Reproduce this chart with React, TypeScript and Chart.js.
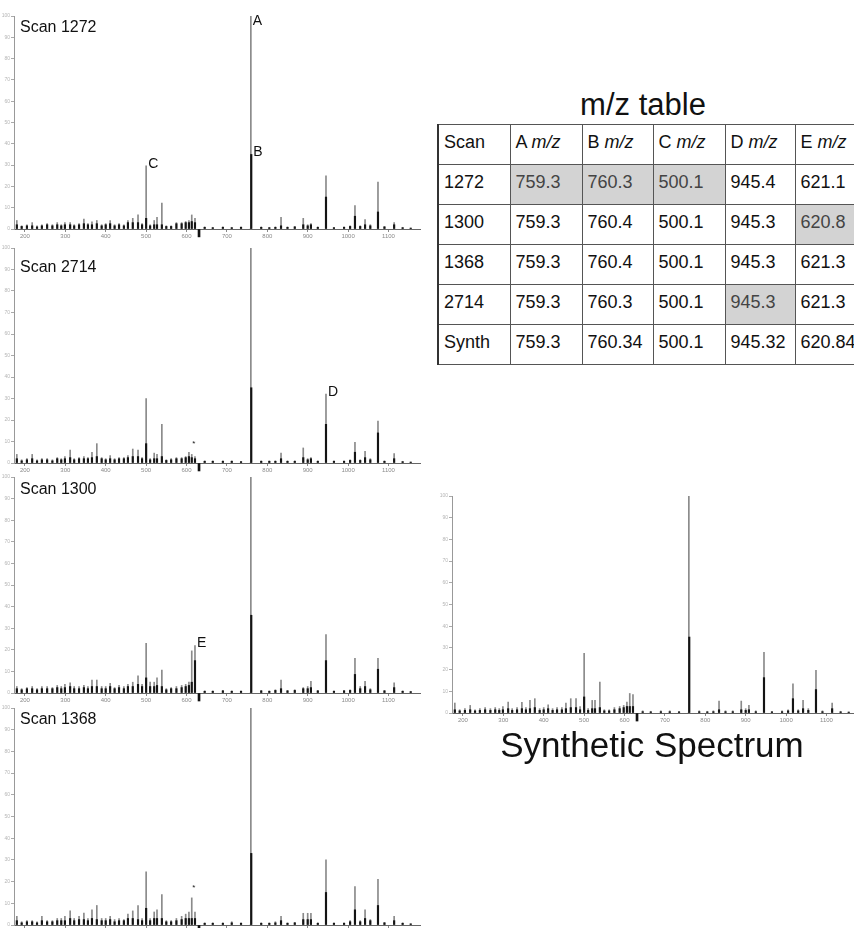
import React, { useEffect, useRef } from "react";
import { Chart, registerables } from "chart.js";

Chart.register(...registerables);

const FONT = '"Liberation Sans", Arial, Helvetica, sans-serif';

// ---------------- DATA ----------------
const mzPositions = [
  180, 192, 205, 218, 230, 242, 255, 268, 280, 290,
  299, 312, 322, 334, 346, 356, 366, 378, 390, 400,
  411, 422, 433, 445, 455, 467, 480, 490, 500.1, 510,
  520, 527, 539, 550, 562, 575, 588, 598, 606, 613,
  621, 645, 665, 690, 712, 735, 759.3, 760.3, 785, 805,
  820, 834, 850, 868, 889, 900, 908, 925, 945.3, 965,
  990, 1005, 1017, 1030, 1042, 1055, 1074, 1090, 1114, 1135,
  1155,
];

const scan1272Grey = [
  4, 1.5, 2, 3, 1.5, 2, 2.5, 2, 3, 2,
  3, 3, 2, 2.5, 4.7, 2.5, 3.4, 4, 2, 2.5,
  4, 2, 2.5, 2, 4, 5, 6.7, 2.5, 29.7, 2,
  4, 5.5, 12.2, 1.5, 1.5, 3, 3, 3.5, 4, 6.6,
  5, 1, 0.8, 1, 0.8, 1, 100, 0, 1, 0.8,
  1, 5.5, 1, 1.2, 5, 2, 2.5, 1, 25, 0.8,
  1, 1.5, 11, 1.5, 4.4, 2, 22, 1.2, 3, 0.8,
  0.5,
];
const scan1272Black = [
  2, 1.2, 1.5, 1.5, 1, 1.5, 2, 1.5, 2, 1.5,
  2, 2, 1.5, 2, 2.5, 2, 2, 2.5, 1.5, 2,
  2.5, 1.5, 2, 1.5, 3, 3, 3, 2, 5, 1.5,
  2, 2, 2, 1.2, 1.2, 2.5, 2.5, 3, 3, 3.5,
  3, 0.8, 0.6, 0.8, 0.6, 0.8, 0, 35, 0.8, 0.6,
  0.8, 1.5, 0.8, 1, 2, 1.5, 2, 0.8, 15, 0.6,
  0.8, 1.2, 6, 1.2, 2, 1.5, 8, 1, 2, 0.6,
  0.4,
];

const scan2714Grey = [
  4, 1.5, 2, 4, 1.5, 2, 2, 1.5, 2.5, 2,
  3, 6, 2, 2.5, 3, 2.5, 5, 9, 2.5, 2,
  3.4, 2, 2.5, 2.5, 3.4, 6.5, 6, 2.5, 30, 2,
  4.6, 4, 18, 1.5, 2, 2.5, 2.5, 3, 5, 4,
  3, 1, 1, 1, 1, 0.8, 100, 0, 1, 1,
  1, 4.6, 1, 1, 7, 2, 2.5, 1, 32, 1,
  1, 1.5, 9.6, 1.5, 5.4, 2, 19.5, 1, 4.4, 0.8,
  0.5,
];
const scan2714Black = [
  2, 1, 1.5, 2, 1, 1.5, 1.5, 1, 2, 1.5,
  2, 2.5, 1.5, 2, 2, 2, 2.5, 3, 2, 1.5,
  2, 1.5, 2, 2, 2.5, 3, 3, 2, 9, 1.5,
  2, 2, 3, 1.2, 1.5, 2, 2, 2.5, 3, 2.5,
  2, 0.8, 0.8, 0.8, 0.8, 0.6, 0, 35, 0.8, 0.8,
  0.8, 2, 0.8, 0.8, 2.5, 1.5, 2, 0.8, 18, 0.8,
  0.8, 1.2, 5, 1.2, 2.5, 1.5, 14, 0.8, 2, 0.6,
  0.4,
];

const scan1300Grey = [
  3, 2, 2.5, 3, 2, 3, 3, 2.5, 3.5, 3,
  4, 4.7, 3, 3, 3.5, 3, 6, 6, 3, 3,
  4.5, 2.5, 3.5, 3, 4, 5, 8, 4, 23, 5,
  5, 7, 10.6, 2, 2.5, 3, 3.5, 4, 5, 19.5,
  22, 1, 1, 1.2, 1, 1, 100, 0, 1.2, 1,
  1.5, 6, 1.2, 1.5, 2.5, 3, 5.4, 1.2, 27, 1,
  1.2, 1.5, 16, 3, 5.4, 2, 16, 1.2, 4.7, 1,
  0.8,
];
const scan1300Black = [
  2, 1.5, 2, 2, 1.5, 2, 2, 2, 2.5, 2,
  2.5, 3, 2, 2, 2.5, 2, 3, 3, 2, 2,
  3, 2, 2.5, 2, 3, 3, 4, 3, 7, 3,
  3, 3.5, 3, 1.5, 2, 2, 2.5, 3, 3.5, 5,
  15, 0.8, 0.8, 1, 0.8, 0.8, 0, 36, 1, 0.8,
  1.2, 2, 1, 1.2, 2, 2, 2.5, 1, 15, 0.8,
  1, 1.2, 8.6, 2, 3, 1.5, 11, 1, 2.5, 0.8,
  0.6,
];

const scan1368Grey = [
  4, 1.5, 2, 2, 1.5, 4, 2, 2, 3, 3,
  4, 6.5, 3, 4, 5.5, 3, 7, 9, 3, 3,
  4, 2.5, 3, 2.5, 5, 6.5, 9, 3, 24.5, 3,
  6, 7, 14, 2, 2, 3, 4, 5, 6, 12.5,
  6, 1, 1, 1, 1.5, 1, 100, 0, 1, 1,
  1.5, 4, 1, 1.2, 5.4, 5.4, 5.4, 1, 30, 1,
  1, 2, 17.7, 2, 7, 2.5, 21, 1.2, 4, 1,
  0.6,
];
const scan1368Black = [
  2, 1, 1.5, 1.5, 1, 2, 1.5, 1.5, 2, 2,
  2, 3, 2, 2.5, 2.5, 2, 3, 2.5, 2, 2,
  2.5, 1.5, 2, 2, 3, 3, 2.5, 2, 7.7, 2,
  3, 3, 3, 1.5, 1.5, 2, 2.5, 3, 3, 3,
  3, 0.8, 0.8, 0.8, 1, 0.8, 0, 33, 0.8, 0.8,
  1, 2, 0.8, 1, 2.5, 2.5, 2.5, 0.8, 15, 0.8,
  0.8, 1.5, 7, 1.5, 3, 2, 9, 1, 2, 0.8,
  0.5,
];

const synthGrey = [
  4.6, 1.5, 2, 3.5, 1.5, 2, 2.5, 2, 2.5, 2,
  3, 5, 2, 2.5, 4.9, 2.5, 5.8, 6.6, 2, 2.5,
  3.8, 2, 2.5, 2.5, 4.6, 6.6, 6.6, 3, 27.5, 2,
  5.8, 5.8, 14.3, 1.5, 1.5, 2.5, 3, 3.5, 5, 9,
  8.5, 1, 0.8, 1, 1, 0.8, 100, 0, 1, 0.8,
  1, 5.5, 1, 1, 5.5, 2, 3.5, 1, 28, 0.8,
  1, 1.5, 13.5, 1.5, 5.8, 2, 19.7, 1, 4.6, 0.8,
  0.5,
];
const synthBlack = [
  1.5, 1, 1.2, 1.5, 1, 1.2, 1.5, 1.2, 1.5, 1.2,
  1.5, 2, 1.2, 1.5, 2, 1.5, 2, 2.5, 1.2, 1.5,
  2, 1.2, 1.5, 1.5, 2, 2.5, 2.5, 1.5, 7.4, 1.2,
  2, 2, 2.5, 1, 1, 1.5, 2, 2.5, 3, 3,
  3, 0.6, 0.5, 0.6, 0.6, 0.5, 0, 35, 0.6, 0.5,
  0.6, 1.5, 0.6, 0.6, 1.5, 1.2, 1.5, 0.6, 16.3, 0.5,
  0.6, 1, 6.6, 1, 2, 1.2, 10.8, 0.6, 2, 0.5,
  0.4,
];

const markerMz = [631];
const markerDepth = [-3.7];

const xTickValues = [200, 300, 400, 500, 600, 700, 800, 900, 1000, 1100];
const yTickValues = [0, 10, 20, 30, 40, 50, 60, 70, 80, 90, 100];

const tableHeader = ["Scan", "A", "B", "C", "D", "E"];
const tableRows = [
  ["1272", "759.3", "760.3", "500.1", "945.4", "621.1"],
  ["1300", "759.3", "760.4", "500.1", "945.3", "620.8"],
  ["1368", "759.3", "760.4", "500.1", "945.3", "621.3"],
  ["2714", "759.3", "760.3", "500.1", "945.3", "621.3"],
  ["Synth", "759.3", "760.34", "500.1", "945.32", "620.84"],
];
// highlighted cells: [row, col]
const shadedCells = [
  [0, 1], [0, 2], [0, 3], [1, 5], [3, 4],
];

type Note = { text: string; mz: number; h: number; size?: number };

const notes1272: Note[] = [
  { text: "A", mz: 759.3, h: 100 },
  { text: "B", mz: 760.3, h: 35 },
  { text: "C", mz: 500.1, h: 29.7 },
];
const notes2714: Note[] = [
  { text: "D", mz: 945.3, h: 32 },
  { text: "*", mz: 609, h: 8, size: 8 },
];
const notes1300: Note[] = [{ text: "E", mz: 621, h: 22 }];
const notes1368: Note[] = [{ text: "*", mz: 609, h: 16, size: 8 }];

// ---------------- COMPONENTS ----------------
const X_MIN = 173;
const X_MAX = 1178;
const PLOT_W = 406;
const PAD_T = 5;
const PAD_R = 4;
const YW = 14;
const XH = 16;

type SpecProps = {
  axisX: number;
  top: number;
  height: number;
  grey: number[];
  black: number[];
  notes: Note[];
};

function Spectrum({ axisX, top, height, grey, black, notes }: SpecProps) {
  const ref = useRef<HTMLCanvasElement>(null);
  useEffect(() => {
    if (!ref.current) return;
    const notePlugin = {
      id: "peakNotes",
      afterDatasetsDraw(chart: any) {
        const { ctx, chartArea } = chart;
        const xs = chart.scales.x;
        const ys = chart.scales.y;
        ctx.save();
        ctx.fillStyle = "#111";
        ctx.textAlign = "left";
        ctx.textBaseline = "middle";
        notes.forEach((n) => {
          const size = n.size || 14;
          ctx.font = `${size}px ${FONT}`;
          const px = xs.getPixelForValue(n.mz) + 2;
          let py = ys.getPixelForValue(n.h) - 2;
          if (py < chartArea.top + 5) py = chartArea.top + 5;
          ctx.fillText(n.text, px, py);
        });
        ctx.restore();
      },
    };
    const chart = new Chart(ref.current, {
      type: "bar",
      data: {
        datasets: [
          {
            data: mzPositions.map((x, i) => ({ x, y: black[i] })),
            backgroundColor: "#141414",
            barThickness: 1.5,
            grouped: false,
            order: 0,
          } as any,
          {
            data: markerMz.map((x, i) => ({ x, y: markerDepth[i] })),
            backgroundColor: "#111",
            barThickness: 2,
            grouped: false,
            clip: false,
            order: 0,
          } as any,
          {
            data: mzPositions.map((x, i) => ({ x, y: grey[i] })),
            backgroundColor: "#8a8a8a",
            barThickness: 1,
            grouped: false,
            order: 1,
          } as any,
        ],
      },
      options: {
        responsive: false,
        animation: false,
        events: [],
        layout: { padding: { top: PAD_T, right: PAD_R, left: 0, bottom: 0 } },
        plugins: {
          legend: { display: false },
          tooltip: { enabled: false },
          title: { display: false },
        },
        scales: {
          x: {
            type: "linear",
            min: X_MIN,
            max: X_MAX,
            offset: false,
            afterBuildTicks: (a: any) => {
              a.ticks = xTickValues.map((v) => ({ value: v }));
            },
            afterFit: (s: any) => {
              s.height = XH;
            },
            grid: { drawOnChartArea: false, offset: false, tickLength: 3, color: "#888" },
            border: { color: "#666", width: 1 },
            ticks: {
              font: { size: 6, family: FONT },
              color: "#8a8a8a",
              padding: 1,
              maxRotation: 0,
              autoSkip: false,
              callback: (v: any) => String(v),
            },
          },
          y: {
            type: "linear",
            min: 0,
            max: 100,
            afterBuildTicks: (a: any) => {
              a.ticks = yTickValues.map((v) => ({ value: v }));
            },
            afterFit: (s: any) => {
              s.width = YW;
            },
            grid: { drawOnChartArea: false, tickLength: 3, color: "#aaa" },
            border: { color: "#999", width: 1 },
            ticks: {
              font: { size: 5, family: FONT },
              color: "#b5b5b5",
              padding: 1,
              callback: (v: any) => String(v),
            },
          },
        },
      } as any,
      plugins: [notePlugin],
    });
    return () => chart.destroy();
  }, []);
  const w = YW + PLOT_W + PAD_R;
  const h = PAD_T + height + XH;
  return (
    <canvas
      ref={ref}
      width={w}
      height={h}
      style={{
        position: "absolute",
        left: axisX - YW,
        top: top - PAD_T,
        width: w,
        height: h,
      }}
    />
  );
}

function Label({ text, left, top, size }: { text: string; left: number; top: number; size: number }) {
  return (
    <div
      style={{
        position: "absolute",
        left,
        top,
        fontFamily: FONT,
        fontSize: size,
        lineHeight: `${size}px`,
        color: "#111",
        whiteSpace: "nowrap",
      }}
    >
      {text}
    </div>
  );
}

function MzTable() {
  const colW = [72, 72, 71, 72, 70, 70];
  const isShaded = (r: number, c: number) =>
    shadedCells.some(([rr, cc]) => rr === r && cc === c);
  const cell = (r: number, c: number): React.CSSProperties => ({
    width: colW[c] - 6,
    height: 40,
    boxSizing: "border-box",
    border: "1px solid #555",
    borderLeft: c === 0 ? "2px solid #333" : "1px solid #555",
    padding: "7px 5px 0 5px",
    verticalAlign: "top",
    background: isShaded(r, c) ? "#d3d3d3" : "#fff",
    color: isShaded(r, c) ? "#444" : "#111",
    fontSize: 18,
    lineHeight: "20px",
    whiteSpace: "nowrap",
  });
  return (
    <table
      style={{
        position: "absolute",
        left: 437,
        top: 124,
        borderCollapse: "collapse",
        fontFamily: FONT,
        tableLayout: "fixed",
        width: colW.reduce((a, b) => a + b, 0),
      }}
    >
      <colgroup>
        {colW.map((w, i) => (
          <col key={i} style={{ width: w }} />
        ))}
      </colgroup>
      <tbody>
        <tr>
          {tableHeader.map((hd, c) => (
            <td key={c} style={cell(-1, c)}>
              {c === 0 ? (
                hd
              ) : (
                <>
                  {hd} <i>m/z</i>
                </>
              )}
            </td>
          ))}
        </tr>
        {tableRows.map((row, r) => (
          <tr key={r}>
            {row.map((v, c) => (
              <td key={c} style={cell(r, c)}>
                {v}
              </td>
            ))}
          </tr>
        ))}
      </tbody>
    </table>
  );
}

export default function App() {
  return (
    <div
      style={{
        position: "absolute",
        left: 0,
        top: 0,
        width: 854,
        height: 928,
        overflow: "hidden",
        background: "#fff",
      }}
    >
      <Spectrum axisX={14} top={16} height={213} grey={scan1272Grey} black={scan1272Black} notes={notes1272} />
      <Spectrum axisX={14} top={248} height={215} grey={scan2714Grey} black={scan2714Black} notes={notes2714} />
      <Spectrum axisX={14} top={477} height={216} grey={scan1300Grey} black={scan1300Black} notes={notes1300} />
      <Spectrum axisX={14} top={708} height={217} grey={scan1368Grey} black={scan1368Black} notes={notes1368} />
      <Spectrum axisX={452} top={496} height={217} grey={synthGrey} black={synthBlack} notes={[]} />

      <Label text="Scan 1272" left={20} top={19} size={16} />
      <Label text="Scan 2714" left={20} top={259} size={16} />
      <Label text="Scan 1300" left={20} top={481} size={16} />
      <Label text="Scan 1368" left={20} top={711} size={16} />

      <div
        style={{
          position: "absolute",
          left: 543,
          top: 89,
          width: 200,
          textAlign: "center",
          fontFamily: FONT,
          fontSize: 31,
          lineHeight: "31px",
          color: "#111",
        }}
      >
        m/z table
      </div>
      <MzTable />
      <div
        style={{
          position: "absolute",
          left: 402,
          top: 727,
          width: 500,
          textAlign: "center",
          fontFamily: FONT,
          fontSize: 35,
          lineHeight: "35px",
          color: "#111",
        }}
      >
        Synthetic Spectrum
      </div>
    </div>
  );
}
